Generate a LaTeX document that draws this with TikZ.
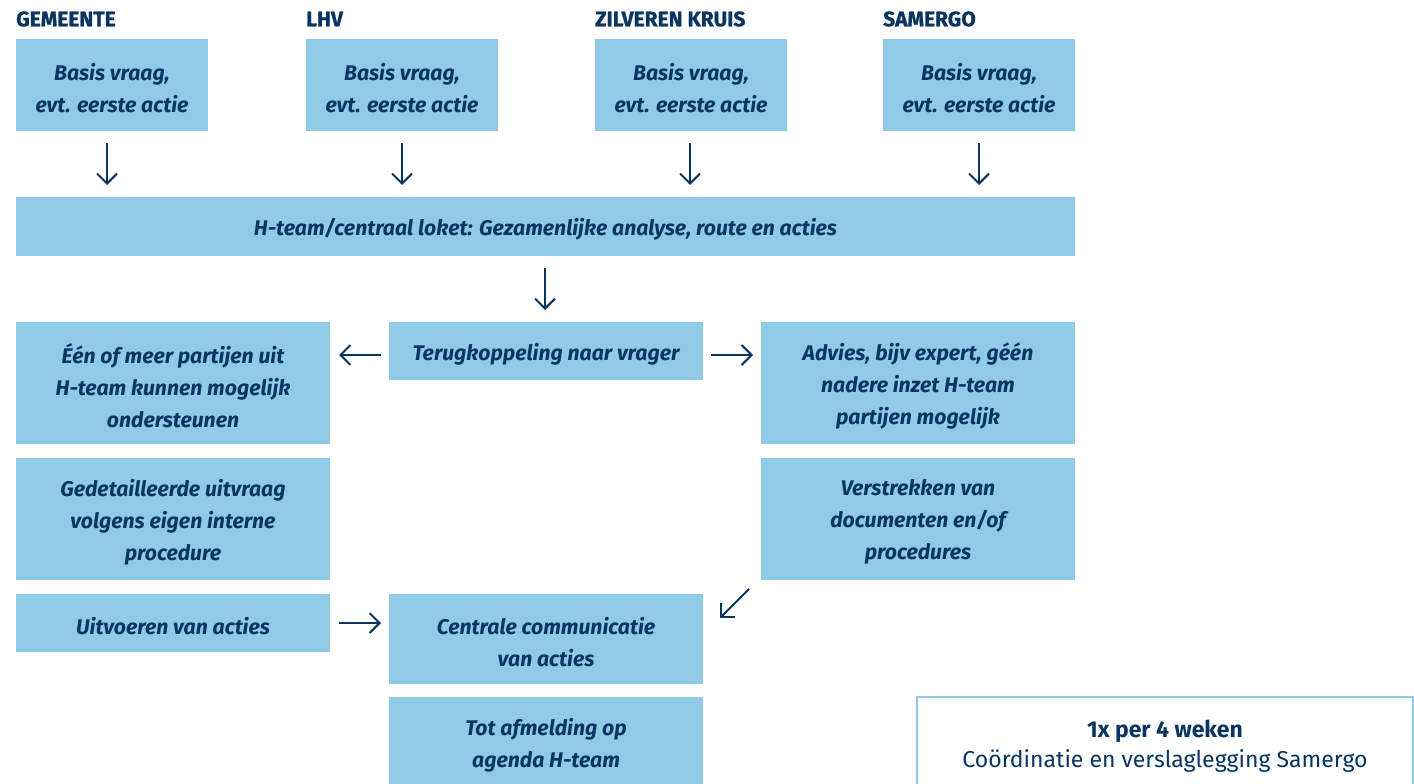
\documentclass[tikz,border=0pt]{standalone}
\usepackage{fontspec}
\setmainfont{Fira Sans}
\usetikzlibrary{arrows.meta}
\definecolor{boxblue}{HTML}{8FCAE7}
\definecolor{navy}{HTML}{0A3560}
\tikzset{
  box/.style={fill=boxblue, draw=none, inner sep=0pt, outer sep=0pt, anchor=north west},
  btext/.style={inner sep=0pt, text=navy, font=\fontsize{21.2}{32}\selectfont\bfseries\itshape, align=center},
  hdr/.style={anchor=west, inner sep=0pt, text=navy, font=\fontsize{21}{22}\selectfont\bfseries\addfontfeature{FakeBold=1}},
  arr/.style={draw=navy, line width=2pt, -{Straight Barb[length=10pt,width=20pt,line width=2pt]}},
}
\begin{document}
\begin{tikzpicture}[x=1pt,y=-1pt]
\useasboundingbox (0,0) rectangle (1414,784);
% headers
\node[hdr] (h1) at (16,19) {GEMEENTE};
\node[hdr] (h2) at (306,19) {LHV};
\node[hdr] (h3) at (595,19) {ZILVEREN KRUIS};
\node[hdr] (h4) at (883,19) {SAMERGO};
% top boxes
\node[box, minimum width=192pt, minimum height=92pt] (b1) at (16,39) {};
\node[box, minimum width=192pt, minimum height=92pt] (b2) at (306,39) {};
\node[box, minimum width=192pt, minimum height=92pt] (b3) at (595,39) {};
\node[box, minimum width=192pt, minimum height=92pt] (b4) at (883,39) {};
\node[btext] (b1t) at ([yshift=-3pt]b1.center) {Basis vraag,\\evt. eerste actie};
\node[btext] (b2t) at ([yshift=-3pt]b2.center) {Basis vraag,\\evt. eerste actie};
\node[btext] (b3t) at ([yshift=-3pt]b3.center) {Basis vraag,\\evt. eerste actie};
\node[btext] (b4t) at ([yshift=-3pt]b4.center) {Basis vraag,\\evt. eerste actie};
% wide box
\node[box, minimum width=1059pt, minimum height=59pt] (ht) at (16,197) {};
\node[btext] (htt) at ([yshift=-3pt]ht.center) {H-team/centraal loket: Gezamenlijke analyse, route en acties};
% feedback etc.
\node[box, minimum width=314pt, minimum height=58pt] (tk) at (389,322) {};
\node[box, minimum width=314pt, minimum height=122pt] (l1) at (16,322) {};
\node[box, minimum width=314pt, minimum height=122pt] (r1) at (761,322) {};
\node[box, minimum width=314pt, minimum height=122pt] (l2) at (16,458) {};
\node[box, minimum width=314pt, minimum height=122pt] (r2) at (761,458) {};
\node[box, minimum width=314pt, minimum height=58pt] (l3) at (16,594) {};
\node[box, minimum width=314pt, minimum height=90pt] (cc) at (389,594) {};
\node[box, minimum width=314pt, minimum height=90pt] (ta) at (389,697) {};
\node[btext] (tkt) at ([yshift=-3pt]tk.center) {Terugkoppeling naar vrager};
\node[btext] (l1t) at ([yshift=-3pt]l1.center) {Één of meer partijen uit\\H-team kunnen mogelijk\\ondersteunen};
\node[btext] (r1t) at ([yshift=-3pt]r1.center) {Advies, bijv expert, géén\\nadere inzet H-team\\partijen mogelijk};
\node[btext] (l2t) at ([yshift=-3pt]l2.center) {Gedetailleerde uitvraag\\volgens eigen interne\\procedure};
\node[btext] (r2t) at ([yshift=-3pt]r2.center) {Verstrekken van\\documenten en/of\\procedures};
\node[btext] (l3t) at ([yshift=-3pt]l3.center) {Uitvoeren van acties};
\node[btext] (cct) at ([yshift=-3pt]cc.center) {Centrale communicatie\\van acties};
\node[btext] (tat) at ([yshift=-3pt]ta.center) {Tot afmelding op\\agenda H-team};
% bottom right box
\node[draw=boxblue, line width=2pt, fill=white, inner sep=0pt, outer sep=0pt, anchor=north west,
  minimum width=496pt, minimum height=100pt] (co) at (917,697) {};
\node[text=navy, align=center, font=\fontsize{23}{30}\selectfont, inner sep=0pt] (cot) at (1165,746)
  {\textbf{1x per 4 weken}\\Coördinatie en verslaglegging Samergo};
% arrows
\coordinate (a1s) at (107,143); \coordinate (a1e) at (107,185);
\coordinate (a2s) at (402,143); \coordinate (a2e) at (402,185);
\coordinate (a3s) at (690,143); \coordinate (a3e) at (690,185);
\coordinate (a4s) at (979,143); \coordinate (a4e) at (979,185);
\draw[arr] (a1s) -- (a1e);
\draw[arr] (a2s) -- (a2e);
\draw[arr] (a3s) -- (a3e);
\draw[arr] (a4s) -- (a4e);
\coordinate (a5s) at (545,268); \coordinate (a5e) at (545,310);
\draw[arr] (a5s) -- (a5e);
\coordinate (a6s) at (381,355); \coordinate (a6e) at (339,355);
\draw[arr] (a6s) -- (a6e);
\coordinate (a7s) at (711,355); \coordinate (a7e) at (753,355);
\draw[arr] (a7s) -- (a7e);
\coordinate (a8s) at (339,623); \coordinate (a8e) at (381,623);
\draw[arr] (a8s) -- (a8e);
\coordinate (a9s) at (749,589); \coordinate (a9e) at (720,618);
\draw[arr] (a9s) -- (a9e);
\end{tikzpicture}
\end{document}
